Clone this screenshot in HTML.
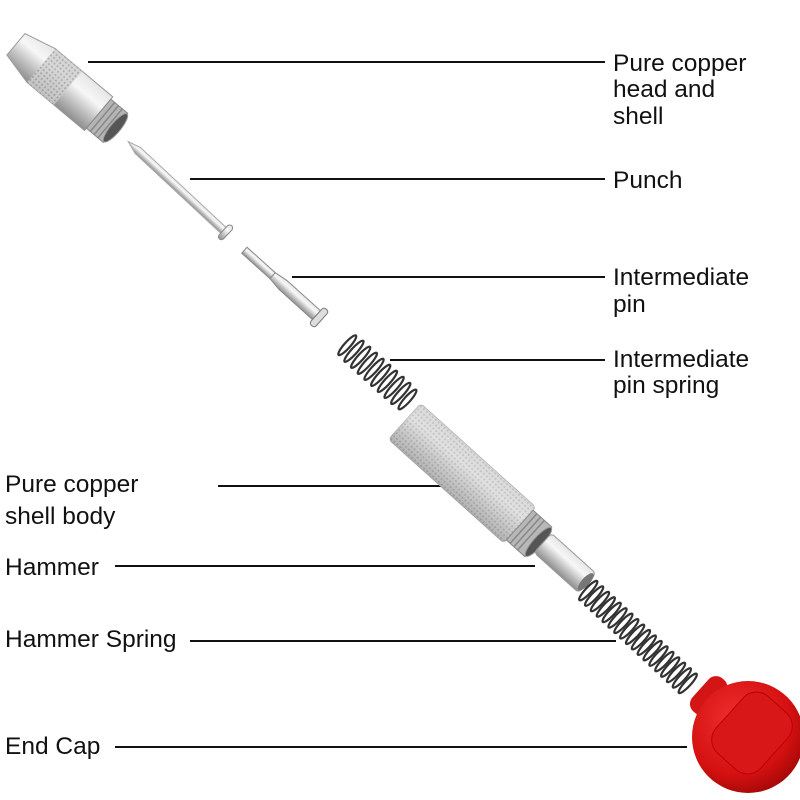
<!DOCTYPE html>
<html><head><meta charset="utf-8"><style>
html,body{margin:0;padding:0;background:#fff}
svg{display:block}
text{font-family:"Liberation Sans","DejaVu Sans",sans-serif;font-size:24.5px;fill:#111}
</style></head><body>
<svg width="800" height="800" viewBox="0 0 800 800">
<defs>
<linearGradient id="m" x1="0" y1="0" x2="0" y2="1">
<stop offset="0" stop-color="#e6e6e6"/><stop offset="0.35" stop-color="#f7f7f7"/><stop offset="0.7" stop-color="#bdbdbd"/><stop offset="1" stop-color="#8e8e8e"/></linearGradient>
<pattern id="k" width="4" height="4" patternUnits="userSpaceOnUse"><rect width="4" height="4" fill="#cfcfcf"/><circle cx="2" cy="2" r="1" fill="#9a9a9a"/></pattern>
<radialGradient id="r" cx="0.4" cy="0.35" r="0.7"><stop offset="0" stop-color="#f03030"/><stop offset="0.7" stop-color="#d41010"/><stop offset="1" stop-color="#a00808"/></radialGradient>
</defs>
<g stroke="#111" stroke-width="2">
<line x1="88" y1="62" x2="605" y2="62"/>
<line x1="190" y1="179" x2="605" y2="179"/>
<line x1="292" y1="277" x2="605" y2="277"/>
<line x1="390" y1="360" x2="605" y2="360"/>
<line x1="218" y1="486" x2="443" y2="486"/>
<line x1="115" y1="566" x2="535" y2="566"/>
<line x1="190" y1="641" x2="616" y2="641"/>
<line x1="115" y1="747" x2="687" y2="747"/>
</g>
<g transform="translate(68,88) rotate(40)">
<path d="M-68,-14 L-35,-22 L40,-22 L40,22 L-35,22 L-68,14 Z" fill="url(#m)" stroke="#999"/>
<rect x="-35" y="-22" width="35" height="44" fill="url(#k)" opacity="0.8"/>
<rect x="40" y="-19" width="22" height="38" fill="#b5b5b5" stroke="#888"/>
<g stroke="#888" stroke-width="1.5"><line x1="45" y1="-19" x2="45" y2="19"/><line x1="50" y1="-19" x2="50" y2="19"/><line x1="55" y1="-19" x2="55" y2="19"/></g>
<ellipse cx="62" cy="0" rx="5" ry="18" fill="#555" stroke="#999"/>
</g>
<g transform="translate(178,188) rotate(43)">
<path d="M-68,0 L-55,-4 L62,-4 L62,4 L-55,4 Z" fill="url(#m)" stroke="#aaa"/>
<rect x="62" y="-9" width="6" height="18" rx="3" fill="url(#m)" stroke="#888"/>
</g>
<g transform="translate(283,285) rotate(42)">
<rect x="-52" y="-4" width="38" height="8" fill="url(#m)" stroke="#888"/>
<path d="M-14,-4 L0,-6 L45,-6 L45,6 L0,6 L-14,4 Z" fill="url(#m)" stroke="#888"/>
<rect x="45" y="-11" width="7" height="22" rx="3" fill="#ddd" stroke="#777"/>
</g>
<!-- spring 1 -->
<g transform="translate(377,372) rotate(42)" fill="none" stroke="#333" stroke-width="2.2">
<ellipse cx="-40" cy="0" rx="3" ry="13"/><ellipse cx="-31" cy="0" rx="3" ry="14"/><ellipse cx="-22" cy="0" rx="3" ry="14"/><ellipse cx="-13" cy="0" rx="3" ry="14"/><ellipse cx="-4" cy="0" rx="3" ry="14"/><ellipse cx="5" cy="0" rx="3" ry="14"/><ellipse cx="14" cy="0" rx="3" ry="14"/><ellipse cx="23" cy="0" rx="3" ry="14"/><ellipse cx="32" cy="0" rx="3" ry="14"/><ellipse cx="41" cy="0" rx="3" ry="13"/>
</g>
<g transform="translate(473,483) rotate(42)">
<rect x="-92" y="-24" width="155" height="48" rx="4" fill="url(#k)" stroke="#aaa"/>
<rect x="-92" y="-24" width="155" height="48" rx="4" fill="url(#m)" opacity="0.45"/>
<rect x="63" y="-20" width="25" height="40" fill="#b8b8b8" stroke="#888"/>
<g stroke="#888" stroke-width="1.5"><line x1="68" y1="-20" x2="68" y2="20"/><line x1="73" y1="-20" x2="73" y2="20"/><line x1="78" y1="-20" x2="78" y2="20"/></g>
<ellipse cx="88" cy="0" rx="5" ry="19" fill="#555" stroke="#999"/>
</g>
<g transform="translate(565,563) rotate(42)">
<rect x="-30" y="-13" width="60" height="26" rx="4" fill="url(#m)" stroke="#999"/>
<ellipse cx="28" cy="0" rx="4" ry="11" fill="#777"/>
</g>
<!-- spring 2 -->
<g transform="translate(638,637) rotate(43)" fill="none" stroke="#333" stroke-width="2.2">
<ellipse cx="-68" cy="0" rx="3" ry="13"/><ellipse cx="-60" cy="0" rx="3" ry="13"/><ellipse cx="-52" cy="0" rx="3" ry="13"/><ellipse cx="-44" cy="0" rx="3" ry="13"/><ellipse cx="-36" cy="0" rx="3" ry="13"/><ellipse cx="-28" cy="0" rx="3" ry="13"/><ellipse cx="-20" cy="0" rx="3" ry="13"/><ellipse cx="-12" cy="0" rx="3" ry="13"/><ellipse cx="-4" cy="0" rx="3" ry="13"/><ellipse cx="4" cy="0" rx="3" ry="13"/><ellipse cx="12" cy="0" rx="3" ry="13"/><ellipse cx="20" cy="0" rx="3" ry="13"/><ellipse cx="28" cy="0" rx="3" ry="13"/><ellipse cx="36" cy="0" rx="3" ry="13"/><ellipse cx="44" cy="0" rx="3" ry="13"/><ellipse cx="52" cy="0" rx="3" ry="13"/><ellipse cx="60" cy="0" rx="3" ry="13"/><ellipse cx="68" cy="0" rx="3" ry="13"/>
</g>
<g>
<g transform="translate(708,695) rotate(42)"><rect x="-10" y="-22" width="22" height="44" rx="10" fill="#d41515"/></g>
<circle cx="748" cy="737" r="56" fill="url(#r)"/>
<g transform="translate(752,733) rotate(42)"><rect x="-30" y="-38" width="60" height="76" rx="18" fill="#d81818" stroke="#b00" stroke-width="1"/></g>
</g>
<text x="613" y="71">Pure copper</text>
<text x="613" y="97">head and</text>
<text x="613" y="124">shell</text>
<text x="613" y="188">Punch</text>
<text x="613" y="285">Intermediate</text>
<text x="613" y="312">pin</text>
<text x="613" y="367">Intermediate</text>
<text x="613" y="393">pin spring</text>
<text x="5" y="492">Pure copper</text>
<text x="5" y="524">shell body</text>
<text x="5" y="575">Hammer</text>
<text x="5" y="647">Hammer Spring</text>
<text x="5" y="754">End Cap</text>
</svg>
</body></html>
